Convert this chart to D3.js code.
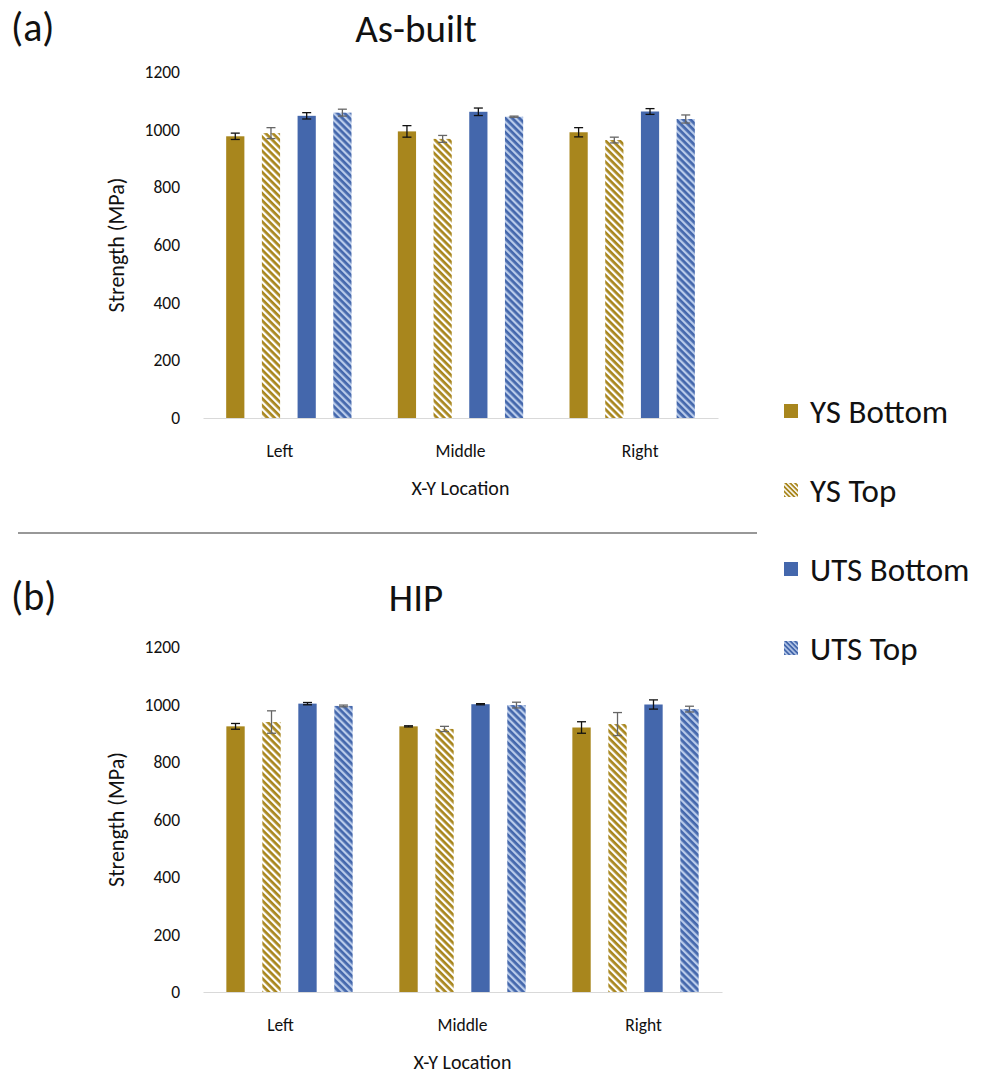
<!DOCTYPE html>
<html>
<head>
<meta charset="utf-8">
<script src="https://cdn.jsdelivr.net/npm/d3@7"></script>
<style>
  body { margin: 0; background: #fff; }
  svg { display: block; font-family: Carlito, Lato, "Open Sans", sans-serif; }
</style>
</head>
<body>
<div id="chart"></div>
<script>
const width = 989, height = 1077;

// categories and series
const locations = ["Left", "Middle", "Right"];
const seriesNames = ["YS Bottom", "YS Top", "UTS Bottom", "UTS Top"];
const yTicks = [0, 200, 400, 600, 800, 1000, 1200];

// (a) as-built, one row per series, one value per location
const asBuiltMean = [
  [977, 994, 991],
  [988, 968, 964],
  [1048, 1062, 1063],
  [1059, 1045, 1037]
];
const asBuiltErr = [
  [11, 20, 16],
  [19, 12, 10],
  [11, 13, 10],
  [12, 2, 14]
];

// (b) HIP
const hipMean = [
  [924, 924, 920],
  [939, 915, 932],
  [1003, 1001, 1000],
  [995, 998, 984]
];
const hipErr = [
  [10, 2, 20],
  [39, 9, 40],
  [4, 2, 16],
  [3, 10, 10]
];

const gold = "#a8861d", blue = "#4467ac";
const fills = [gold, "url(#hatchGold)", blue, "url(#hatchBlue)"];
const errColors = ["#111", "#666", "#111", "#666"];
const legendFills = [gold, "url(#hatchGoldL)", blue, "url(#hatchBlueL)"];
const labelShift = [-9, 0, 8]; // excel spreads the category labels a bit

const svg = d3.select("#chart").append("svg")
  .attr("width", width)
  .attr("height", height);

// diagonal stripe patterns
const defs = svg.append("defs");
function stripes(id, base, line, size){
  let p = defs.append("pattern")
    .attr("id", id)
    .attr("patternUnits", "userSpaceOnUse")
    .attr("width", size).attr("height", size)
    .attr("patternTransform", "rotate(-45)");
  p.append("rect").attr("width", size).attr("height", size).attr("fill", base);
  p.append("rect").attr("width", size * 0.45).attr("height", size).attr("fill", line);
}
stripes("hatchGold", gold, "#fff", 5);
stripes("hatchBlue", blue, "#b9cbea", 5);
stripes("hatchGoldL", gold, "#fff", 3.4);
stripes("hatchBlueL", blue, "#b9cbea", 3.4);

function drawPanel(opt){
  let g = svg.append("g");

  let x0 = d3.scaleBand()
    .domain(locations)
    .range([opt.left, opt.right])
    .paddingInner(0.27)
    .paddingOuter(0.135);

  let x1 = d3.scaleBand()
    .domain(seriesNames)
    .range([0, x0.bandwidth()])
    .paddingInner(0.49)
    .paddingOuter(0);

  let y = d3.scaleLinear()
    .domain([0, 1200])
    .range([opt.base, opt.top]);

  // y tick labels
  let ya = g.append("g")
    .attr("transform", "translate(180,0)")
    .call(d3.axisLeft(y).tickValues(yTicks).tickFormat(d3.format("d")).tickSize(0).tickPadding(0));
  ya.select(".domain").remove();
  ya.attr("font-family", null).attr("font-size", 17.5);
  ya.selectAll("text").attr("fill", "#111");

  // bars
  seriesNames.forEach(function(s, i){
    let rows = locations.map(function(loc, j){
      return {loc: loc, v: opt.mean[i][j], e: opt.err[i][j]};
    });
    let sg = g.append("g");
    sg.selectAll("rect")
      .data(rows)
      .enter()
      .append("rect")
      .attr("x", function(d){ return x0(d.loc) + x1(s); })
      .attr("y", function(d){ return y(d.v); })
      .attr("width", x1.bandwidth())
      .attr("height", function(d){ return y(0) - y(d.v); })
      .attr("fill", fills[i]);

    // error bars
    let eb = sg.selectAll(".err")
      .data(rows)
      .enter()
      .append("g")
      .attr("stroke", errColors[i])
      .attr("stroke-width", 1.3);
    let cx = function(d){ return x0(d.loc) + x1(s) + x1.bandwidth() / 2; };
    eb.append("line")
      .attr("x1", cx).attr("x2", cx)
      .attr("y1", function(d){ return y(d.v + d.e); })
      .attr("y2", function(d){ return y(d.v - d.e); });
    [1, -1].forEach(function(k){
      eb.append("line")
        .attr("x1", function(d){ return cx(d) - 4.5; })
        .attr("x2", function(d){ return cx(d) + 4.5; })
        .attr("y1", function(d){ return y(d.v + k * d.e); })
        .attr("y2", function(d){ return y(d.v + k * d.e); });
    });
  });

  // x axis
  let xa = g.append("g")
    .attr("transform", "translate(0," + opt.base + ")")
    .call(d3.axisBottom(x0).tickSize(0).tickSizeOuter(0).tickPadding(27));
  xa.attr("font-family", null).attr("font-size", 17.5);
  xa.select(".domain").attr("stroke", "#d9d9d9").attr("stroke-width", 1.2);
  xa.selectAll("text")
    .attr("fill", "#111")
    .attr("dx", function(d, i){ return labelShift[i]; });

  g.append("text")
    .attr("x", (opt.left + opt.right) / 2)
    .attr("y", opt.base + 77)
    .attr("text-anchor", "middle")
    .attr("font-size", 20)
    .attr("fill", "#111")
    .text("X-Y Location");

  g.append("text")
    .attr("transform", "translate(124," + (opt.top + opt.base) / 2 + ") rotate(-90)")
    .attr("text-anchor", "middle")
    .attr("font-size", 22)
    .attr("fill", "#111")
    .text("Strength (MPa)");

  // panel title and letter
  g.append("text")
    .attr("x", 416)
    .attr("y", opt.titleY)
    .attr("text-anchor", "middle")
    .attr("font-size", 39)
    .attr("fill", "#111")
    .text(opt.title);

  g.append("text")
    .attr("x", 11)
    .attr("y", opt.titleY - 1)
    .attr("font-size", 40)
    .attr("fill", "#111")
    .text(opt.letter);
}

drawPanel({letter: "(a)", title: "As-built", mean: asBuiltMean, err: asBuiltErr,
           left: 203, right: 718, top: 72, base: 418, titleY: 42});
drawPanel({letter: "(b)", title: "HIP", mean: hipMean, err: hipErr,
           left: 203, right: 722, top: 647, base: 992, titleY: 611});

// divider
svg.append("line")
  .attr("x1", 18).attr("x2", 757)
  .attr("y1", 533).attr("y2", 533)
  .attr("stroke", "#333")
  .attr("stroke-width", 1.2);

// legend
let legend = svg.selectAll(".legend")
  .data(seriesNames)
  .enter()
  .append("g")
  .attr("transform", function(d, i){ return "translate(784," + (411 + i * 79) + ")"; });

legend.append("rect")
  .attr("x", 0).attr("y", -7)
  .attr("width", 14).attr("height", 14)
  .attr("fill", function(d, i){ return legendFills[i]; });

legend.append("text")
  .attr("x", 26)
  .attr("y", 0)
  .attr("dy", "0.36em")
  .attr("font-size", 33)
  .attr("fill", "#111")
  .text(function(d){ return d; });
</script>
</body>
</html>
